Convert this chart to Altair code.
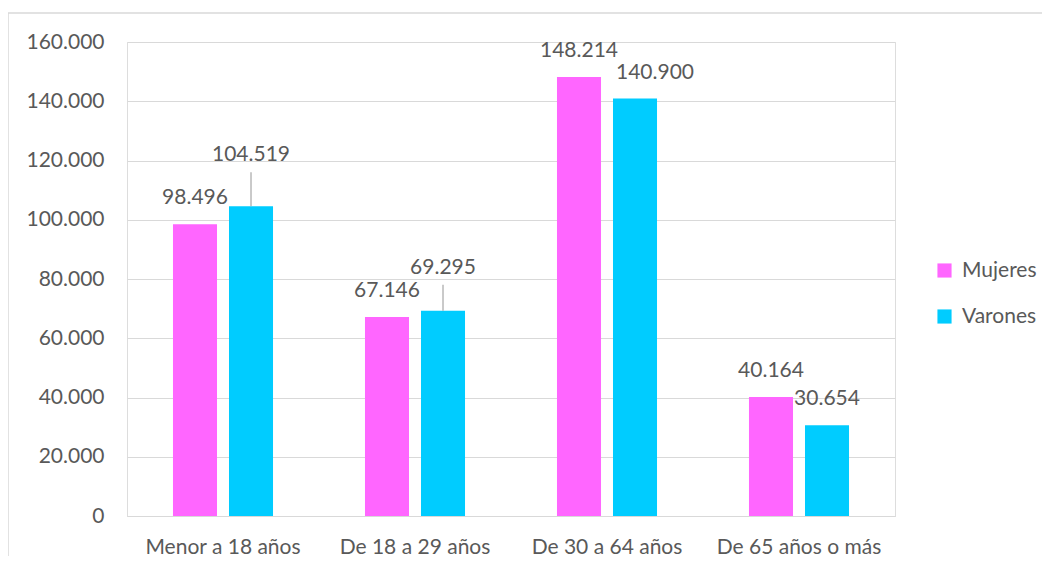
import altair as alt
import pandas as pd

categorias = ["Menor a 18 años", "De 18 a 29 años", "De 30 a 64 años", "De 65 años o más"]
series = ["Mujeres", "Varones"]
mujeres = [98496, 67146, 148214, 40164]
varones = [104519, 69295, 140900, 30654]
colores = ["#FF66FF", "#00CCFF"]
y_ticks = [0, 20000, 40000, 60000, 80000, 100000, 120000, 140000, 160000]

rows = []
for i, c in enumerate(categorias):
    rows.append({"cat": c, "serie": "Mujeres", "valor": mujeres[i]})
    rows.append({"cat": c, "serie": "Varones", "valor": varones[i]})
df = pd.DataFrame(rows)
df["etiqueta"] = df["valor"].map(lambda v: f"{v:,}".replace(",", "."))
df["clave"] = df["cat"] + "|" + df["serie"]

FONT = "Lato"
FS = 21
GRAY = "#595959"
GRID = "#d9d9d9"

K1 = "Menor a 18 años|Varones"
K2 = "De 18 a 29 años|Varones"
K3 = "De 30 a 64 años|Varones"

x_enc = alt.X("cat:N", sort=categorias, title=None,
              scale=alt.Scale(paddingInner=0, paddingOuter=0),
              axis=alt.Axis(labelAngle=0, ticks=False, domainColor=GRID, labelPadding=20,
                            labelFontSize=FS, labelColor=GRAY, labelFont=FONT))
xo_enc = alt.XOffset("serie:N", sort=series,
                     scale=alt.Scale(paddingInner=0.214, paddingOuter=0.821))
y_enc = alt.Y("valor:Q", title=None,
              scale=alt.Scale(domain=[0, 160000], nice=False),
              axis=alt.Axis(values=y_ticks, ticks=False, domain=False, gridColor=GRID,
                            labelPadding=23, labelFontSize=FS, labelColor=GRAY, labelFont=FONT,
                            labelExpr="replace(format(datum.value, ',d'), ',', '.')"))

base = alt.Chart(df).encode(x=x_enc, xOffset=xo_enc, y=y_enc)

bars = base.mark_bar().encode(
    color=alt.Color("serie:N", sort=series, title=None,
                    scale=alt.Scale(domain=series, range=colores),
                    legend=alt.Legend(orient="none", legendX=807, legendY=218,
                                      symbolType="square", symbolSize=200, symbolStrokeWidth=0,
                                      labelFontSize=FS, labelColor=GRAY, labelFont=FONT,
                                      rowPadding=24, labelOffset=7))
)


def etiqueta(filtro, dy, dx=0):
    return base.transform_filter(filtro).mark_text(
        baseline="middle", dy=dy, dx=dx, fontSize=FS, color=GRAY, font=FONT
    ).encode(text="etiqueta:N")


def guia(filtro, largo):
    return base.transform_filter(filtro).mark_rule(
        color="#a6a6a6", strokeWidth=1.2, y2Offset=-largo
    ).encode(y2="valor:Q")


txt_normal = etiqueta(f"datum.clave != '{K1}' && datum.clave != '{K2}' && datum.clave != '{K3}'", -26)
txt_k1 = etiqueta(f"datum.clave == '{K1}'", -51)
txt_k2 = etiqueta(f"datum.clave == '{K2}'", -43)
txt_k3 = etiqueta(f"datum.clave == '{K3}'", -26, 20)
guia1 = guia(f"datum.clave == '{K1}'", 34)
guia2 = guia(f"datum.clave == '{K2}'", 26)

borde = alt.Chart(pd.DataFrame({"a": [0]})).mark_rect(
    fillOpacity=0, stroke=GRID, strokeWidth=1.5
).encode(x=alt.value(-119), x2=alt.value(940), y=alt.value(-29), y2=alt.value(560))

chart = alt.layer(borde, bars, guia1, guia2, txt_normal, txt_k1, txt_k2, txt_k3).properties(
    width=768, height=474,
    autosize=alt.AutoSizeParams(type="none"),
    padding={"left": 119, "top": 34, "right": 147, "bottom": 40},
).configure_view(stroke=None).configure(background="white")

chart.save("out.html", embed_options={"renderer": "svg", "actions": False})
